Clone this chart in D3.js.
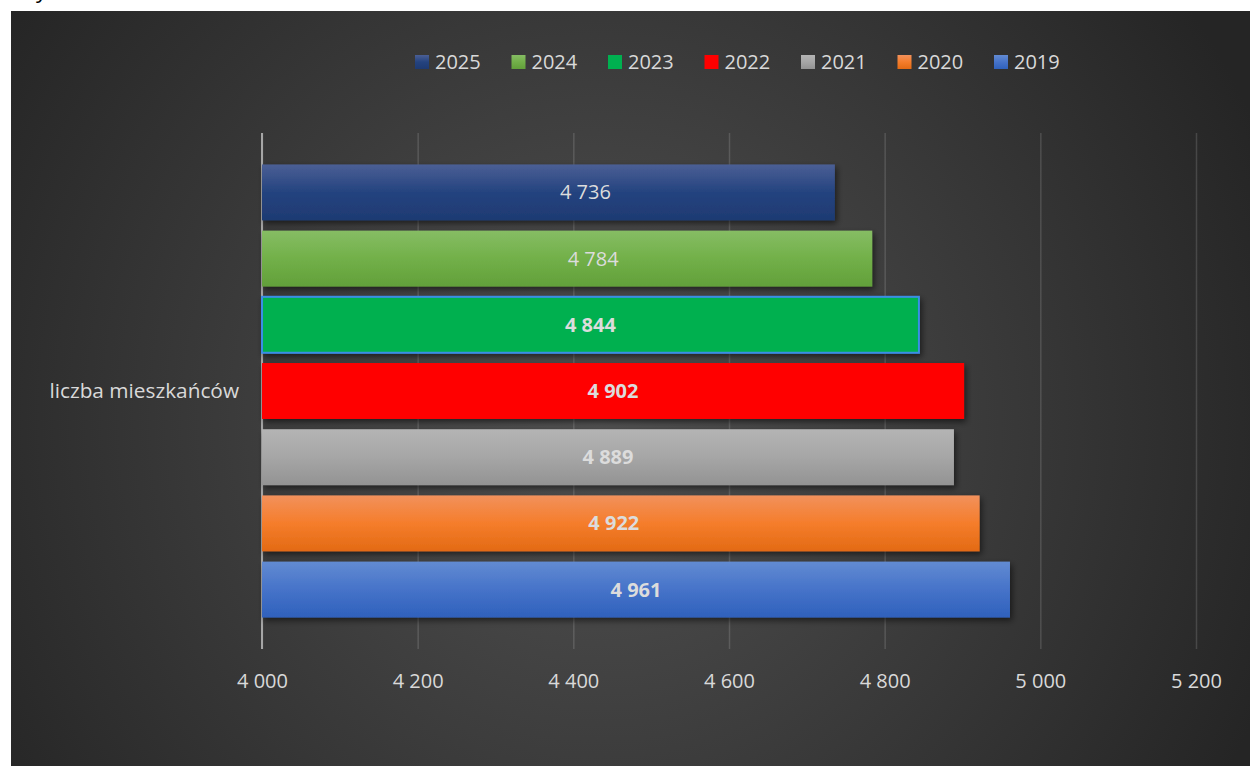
<!DOCTYPE html>
<html>
<head>
<meta charset="utf-8">
<script src="https://cdn.jsdelivr.net/npm/d3@7"></script>
<style>
    body { margin: 0; background: #ffffff; }
    text { font-family: "Open Sans", "Noto Sans", sans-serif; }
</style>
</head>
<body>
<svg id="chart" width="1250" height="766"></svg>
<script>
// data
const years = ['2025', '2024', '2023', '2022', '2021', '2020', '2019'];
const residents = [4736, 4784, 4844, 4902, 4889, 4922, 4961];
const category = 'liczba mieszkańców';
const xTicks = [4000, 4200, 4400, 4600, 4800, 5000, 5200];

class ResidentsChart {
    constructor() {
        this.svg = d3.select('#chart');
        this.rows = years.map((y, i) => ({year: y, value: residents[i]}));

        this.PLOT = {left: 262, right: 1196, top: 133, bottom: 649};

        this.xScale = d3.scaleLinear()
            .domain([4000, 5200])
            .range([this.PLOT.left, this.PLOT.right]);

        this.yScale = d3.scaleBand()
            .domain(years)
            .range([this.PLOT.top, this.PLOT.bottom])
            .paddingInner(0.155)
            .paddingOuter(0.475);

        // bar fills, top -> bottom of each bar
        this.fills = {
            '2025': ['#4b5f95', '#24437f', '#1e3a72'],
            '2024': ['#86bd64', '#72b049', '#62a03a'],
            '2023': ['#00b050', '#00b050', '#00b050'],
            '2022': ['#ff0000', '#ff0000', '#ff0000'],
            '2021': ['#b4b4b4', '#a6a6a6', '#939393'],
            '2020': ['#f2915c', '#f57d2b', '#e36a14'],
            '2019': ['#628bd2', '#4673c9', '#2f61bc']
        };
        this.boldYears = new Set(['2023', '2022', '2021', '2020', '2019']);
        // a few labels were dragged off centre in the original
        this.labelNudge = {'2025': 37, '2024': 26, '2020': -7};

        this.drawChart();
    }

    drawChart() {
        this.drawDefs();
        this.drawBackground();
        this.drawAxis();
        this.drawBars();
        this.drawLegend();
    }

    drawDefs() {
        let defs = this.svg.append('defs');

        let bg = defs.append('radialGradient')
            .attr('id', 'bg-grad')
            .attr('gradientUnits', 'userSpaceOnUse')
            .attr('cx', 600).attr('cy', 420).attr('r', 720);
        bg.append('stop').attr('offset', '0%').attr('stop-color', '#525252');
        bg.append('stop').attr('offset', '100%').attr('stop-color', '#252525');

        years.forEach(y => {
            let g = defs.append('linearGradient')
                .attr('id', 'fill-' + y)
                .attr('x1', 0).attr('y1', 0).attr('x2', 0).attr('y2', 1);
            this.fills[y].forEach((c, i) => {
                g.append('stop').attr('offset', (i * 50) + '%').attr('stop-color', c);
            });
        });

        let shadow = defs.append('filter')
            .attr('id', 'shadow')
            .attr('x', '-5%').attr('y', '-20%')
            .attr('width', '115%').attr('height', '160%');
        shadow.append('feDropShadow')
            .attr('dx', 2).attr('dy', 3)
            .attr('stdDeviation', 3)
            .attr('flood-color', '#000')
            .attr('flood-opacity', 0.55);
    }

    drawBackground() {
        this.svg.append('rect')
            .attr('x', 11).attr('y', 11)
            .attr('width', 1239).attr('height', 755)
            .attr('fill', 'url(#bg-grad)');

        // cut-off letter above the chart
        this.svg.append('text')
            .attr('x', 36).attr('y', -2)
            .attr('font-family', 'Liberation Serif')
            .attr('font-size', 22)
            .attr('fill', '#000')
            .text('y');
    }

    drawAxis() {
        // gridlines
        let xAxis = d3.axisBottom(this.xScale)
            .tickValues(xTicks)
            .tickSize(-(this.PLOT.bottom - this.PLOT.top))
            .tickFormat(d => d3.format(',')(d).replace(',', ' '));

        let gx = this.svg.append('g')
            .attr('id', 'x-axis')
            .attr('transform', `translate(0, ${this.PLOT.bottom})`)
            .call(xAxis);

        gx.select('.domain').remove();
        gx.selectAll('.tick line')
            .attr('stroke', '#ffffff')
            .attr('stroke-opacity', 0.14)
            .attr('stroke-width', 1.5);
        gx.selectAll('.tick text')
            .attr('y', 32)
            .attr('dy', '.35em')
            .attr('fill', '#d9d9d9')
            .attr('font-size', 20);

        // category axis line
        this.svg.append('line')
            .attr('x1', this.xScale(4000)).attr('x2', this.xScale(4000))
            .attr('y1', this.PLOT.top).attr('y2', this.PLOT.bottom)
            .attr('stroke', '#a6a6a6')
            .attr('stroke-width', 2);

        this.svg.append('text')
            .attr('x', 239)
            .attr('y', (this.PLOT.top + this.PLOT.bottom) / 2)
            .attr('dy', '.35em')
            .attr('text-anchor', 'end')
            .attr('fill', '#d9d9d9')
            .attr('font-size', 20.8)
            .text(category);
    }

    drawBars() {
        let x0 = this.xScale(4000);

        this.svg.append('g')
            .attr('id', 'bars')
            .selectAll('rect')
            .data(this.rows)
            .join('rect')
            .attr('x', x0)
            .attr('y', d => this.yScale(d.year))
            .attr('width', d => this.xScale(d.value) - x0)
            .attr('height', this.yScale.bandwidth())
            .attr('fill', d => `url(#fill-${d.year})`)
            .attr('stroke', d => d.year === '2023' ? '#3a8ee6' : 'none')
            .attr('stroke-width', 2)
            .attr('filter', 'url(#shadow)');

        this.svg.append('g')
            .attr('id', 'bar-labels')
            .selectAll('text')
            .data(this.rows)
            .join('text')
            .attr('x', d => (x0 + this.xScale(d.value)) / 2 + (this.labelNudge[d.year] || 0))
            .attr('y', d => this.yScale(d.year) + this.yScale.bandwidth() / 2)
            .attr('dy', '.35em')
            .attr('text-anchor', 'middle')
            .attr('font-size', 20)
            .attr('font-weight', d => this.boldYears.has(d.year) ? 'bold' : 'normal')
            .attr('fill', '#dcdcdc')
            .text(d => d3.format(',')(d.value).replace(',', ' '));
    }

    drawLegend() {
        let lx = d3.scaleBand()
            .domain(years)
            .range([415, 415 + 96.5 * years.length]);

        let items = this.svg.append('g')
            .attr('id', 'legend')
            .selectAll('g')
            .data(years)
            .join('g')
            .attr('transform', d => `translate(${lx(d)}, 62)`);

        items.append('rect')
            .attr('x', 0).attr('y', -7)
            .attr('width', 14).attr('height', 14)
            .attr('fill', d => `url(#fill-${d})`);

        items.append('text')
            .attr('x', 20)
            .attr('dy', '.35em')
            .attr('fill', '#d9d9d9')
            .attr('font-size', 20)
            .text(d => d);
    }
}

new ResidentsChart();
</script>
</body>
</html>
